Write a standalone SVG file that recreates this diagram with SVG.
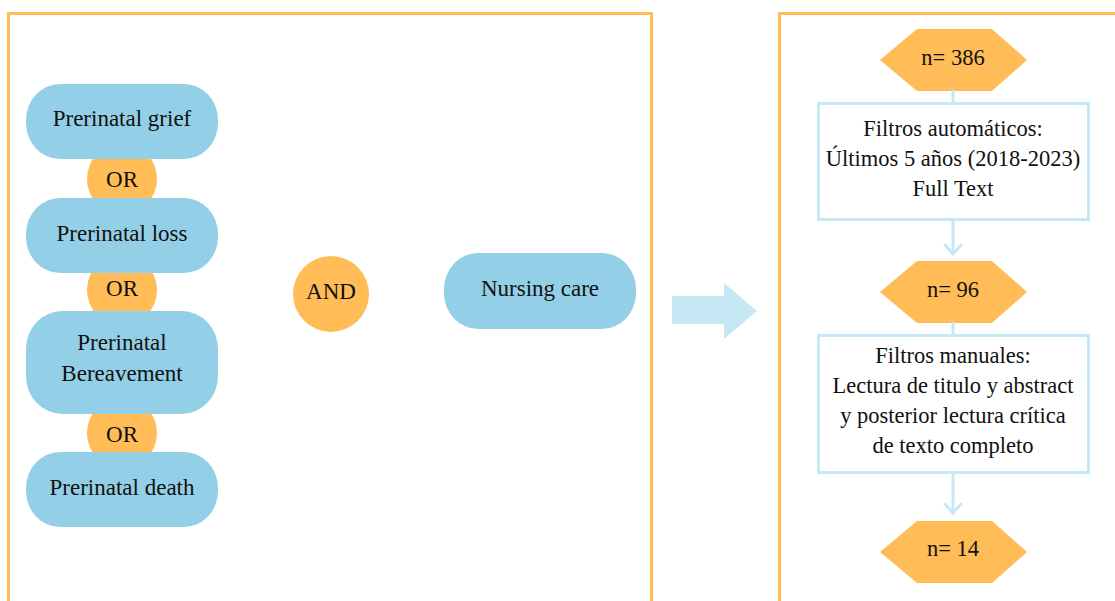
<svg xmlns="http://www.w3.org/2000/svg" width="1115" height="601" viewBox="0 0 1115 601">
  <style>
    .frame { fill: none; stroke: #FFBD59; stroke-width: 3; }
    .term { fill: #93CFE6; }
    .op { fill: #FFBC57; }
    .count { fill: #FFBC57; }
    .step { fill: #FFFFFF; stroke: #C6E8F5; stroke-width: 3; }
    .link { fill: none; stroke: #C6E8F5; stroke-width: 3; stroke-linecap: round; stroke-linejoin: round; }
    text { font-family: "Liberation Serif", "Times New Roman", serif; font-size: 23px; fill: #111111; text-anchor: middle; dominant-baseline: central; }
    .flow text { font-size: 22.5px; }
  </style>
  <rect width="1115" height="601" fill="#FFFFFF"/>

  <!-- outer panels -->
  <g id="panel-search">
    <rect class="frame" x="8.5" y="13.5" width="643" height="620"/>
  </g>
  <g id="panel-filters">
    <rect class="frame" x="779.5" y="13.5" width="400" height="620"/>
  </g>

  <!-- OR operators sit behind the search terms -->
  <g id="or-1"><ellipse class="op" cx="122" cy="179" rx="35" ry="36"/><text x="122" y="179">OR</text></g>
  <g id="or-2"><ellipse class="op" cx="122" cy="290" rx="35" ry="36"/><text x="122" y="288">OR</text></g>
  <g id="or-3"><ellipse class="op" cx="122" cy="433" rx="35" ry="36"/><text x="122" y="434">OR</text></g>

  <!-- search terms -->
  <g id="term-grief"><rect class="term" x="26" y="84" width="192" height="75" rx="34" ry="36"/><text x="122" y="118">Prerinatal grief</text></g>
  <g id="term-loss"><rect class="term" x="26" y="198" width="192" height="75" rx="34" ry="36"/><text x="122" y="233">Prerinatal loss</text></g>
  <g id="term-bereavement"><rect class="term" x="26" y="311" width="192" height="103" rx="36" ry="38"/><text x="122" y="342">Prerinatal</text><text x="122" y="373">Bereavement</text></g>
  <g id="term-death"><rect class="term" x="26" y="452" width="192" height="75" rx="34" ry="36"/><text x="122" y="487">Prerinatal death</text></g>

  <g id="and"><ellipse class="op" cx="331" cy="294" rx="38" ry="38"/><text x="331" y="291">AND</text></g>
  <g id="term-nursing"><rect class="term" x="444" y="253" width="192" height="76" rx="34" ry="36"/><text x="540" y="288">Nursing care</text></g>

  <!-- block arrow between panels -->
  <g id="transition">
    <polygon points="672,296 724,296 724,283 757,311 724,339 724,324 672,324" fill="#C6E8F5"/>
  </g>

  <!-- filtering flow -->
  <g class="flow">
    <g id="n-386"><polygon class="count" points="880,60 917,29 992,29 1027,60 992,91 917,91"/><text x="953" y="57">n= 386</text></g>
    <g id="auto-filters">
      <rect class="step" x="818.5" y="103.5" width="270" height="116"/>
      <text x="953" y="128">Filtros automáticos:</text>
      <text x="953" y="158">Últimos 5 años (2018-2023)</text>
      <text x="953" y="188">Full Text</text>
    </g>
    <g id="n-96"><polygon class="count" points="880,292 917,261 992,261 1027,292 992,323 917,323"/><text x="953" y="289">n= 96</text></g>
    <g id="manual-filters">
      <rect class="step" x="818.5" y="335.5" width="270" height="137"/>
      <text x="953" y="355">Filtros manuales:</text>
      <text x="953" y="385">Lectura de titulo y abstract</text>
      <text x="953" y="415">y posterior lectura crítica</text>
      <text x="953" y="445">de texto completo</text>
    </g>
    <g id="n-14"><polygon class="count" points="880,552 917,521 992,521 1027,552 992,583 917,583"/><text x="953" y="548">n= 14</text></g>
  </g>

  <g id="connectors">
    <line class="link" x1="953" y1="91" x2="953" y2="103"/>
    <line class="link" x1="953" y1="221" x2="953" y2="254"/>
    <polyline class="link" points="945,245 953,254 961,245"/>
    <line class="link" x1="953" y1="323" x2="953" y2="335"/>
    <line class="link" x1="953" y1="474" x2="953" y2="513"/>
    <polyline class="link" points="945,504 953,513 961,504"/>
  </g>
</svg>
